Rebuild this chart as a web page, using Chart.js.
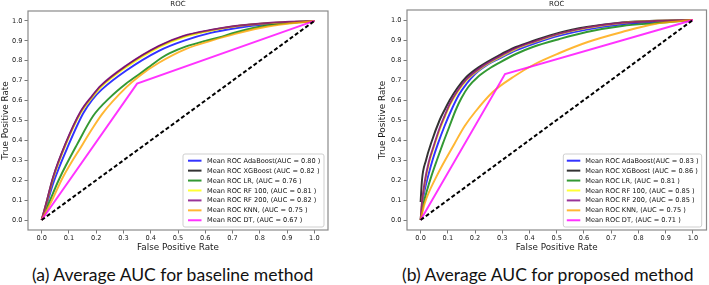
<!DOCTYPE html>
<html><head><meta charset="utf-8">
<script src="https://cdn.jsdelivr.net/npm/chart.js@4"></script>
<style>
html,body{margin:0;padding:0;background:#fff;width:709px;height:285px;overflow:hidden}
.wrap{position:absolute;top:0;width:354px;height:255px}
.cap{position:absolute;white-space:nowrap;font-family:Lato,"Open Sans",sans-serif;color:#111;line-height:20px;top:265px}
</style></head><body>
<div class="wrap" style="left:0"><canvas id="c1" width="354" height="255"></canvas></div>
<div class="wrap" style="left:355px"><canvas id="c2" width="354" height="255"></canvas></div>
<div class="cap" id="capA">(a) Average AUC for baseline method</div>
<div class="cap" id="capB">(b) Average AUC for proposed method</div>
<script>
// ---------- data ----------
const tickValues = [0,0.1,0.2,0.3,0.4,0.5,0.6,0.7,0.8,0.9,1.0];
const tickLabels = ['0.0','0.1','0.2','0.3','0.4','0.5','0.6','0.7','0.8','0.9','1.0'];
const modelNames = ['Mean ROC AdaBoost','Mean ROC XGBoost ','Mean ROC LR, ','Mean ROC RF 100, ','Mean ROC RF 200, ','Mean ROC KNN, ','Mean ROC DT, '];
const aucBaseline = [0.80,0.82,0.76,0.81,0.82,0.75,0.67];
const aucProposed = [0.83,0.86,0.81,0.85,0.85,0.75,0.71];
const chanceFpr = [0,1];
const chanceTpr = [0,1];

// (a) baseline
const fprAdaA = [0,0.02,0.045,0.098,0.152,0.186,0.22,0.309,0.43,0.52,0.62,0.71,0.83,1];
const tprAdaA = [0,0.085,0.195,0.375,0.535,0.605,0.655,0.75,0.85,0.9,0.94,0.963,0.984,1];
const fprXgbA = [0,0.017,0.042,0.088,0.143,0.186,0.217,0.309,0.43,0.52,0.62,0.71,0.83,1];
const tprXgbA = [0,0.083,0.212,0.382,0.542,0.622,0.672,0.772,0.872,0.922,0.953,0.974,0.989,1];
const fprLrA  = [0,0.025,0.064,0.13,0.19,0.25,0.309,0.36,0.4,0.44,0.47,0.53,0.6,0.65,0.71,0.83,1];
const tprLrA  = [0,0.08,0.205,0.38,0.525,0.615,0.685,0.735,0.775,0.815,0.838,0.872,0.9,0.917,0.942,0.978,1];
const fprRf100A = [0,0.017,0.042,0.088,0.143,0.186,0.217,0.309,0.43,0.52,0.62,0.71,0.83,1];
const tprRf100A = [0,0.08,0.207,0.377,0.537,0.617,0.667,0.767,0.867,0.918,0.951,0.972,0.988,1];
const fprRf200A = [0,0.017,0.042,0.088,0.143,0.186,0.217,0.309,0.43,0.52,0.62,0.71,0.83,1];
const tprRf200A = [0,0.085,0.215,0.385,0.545,0.625,0.675,0.775,0.875,0.925,0.955,0.975,0.99,1];
const fprKnnA = [0,0.033,0.078,0.15,0.186,0.223,0.309,0.36,0.43,0.53,0.62,0.71,0.83,1];
const tprKnnA = [0,0.085,0.215,0.38,0.46,0.535,0.665,0.725,0.79,0.86,0.9,0.935,0.972,1];
const fprDtA = [0,0.35,1];
const tprDtA = [0,0.685,1];

// (b) proposed
const fprAdaB = [0,0.006,0.015,0.027,0.045,0.064,0.088,0.113,0.14,0.168,0.2,0.25,0.29,0.35,0.412,0.51,0.61,0.74,0.87,1];
const tprAdaB = [0,0.083,0.15,0.217,0.305,0.383,0.47,0.55,0.625,0.68,0.73,0.78,0.808,0.848,0.88,0.922,0.952,0.978,0.992,1];
const fprXgbB = [0,0.005,0.02,0.04,0.07,0.088,0.107,0.135,0.168,0.22,0.29,0.35,0.412,0.51,0.61,0.74,0.87,1];
const tprXgbB = [0.09,0.2,0.3,0.39,0.5,0.55,0.6,0.66,0.715,0.77,0.825,0.865,0.895,0.937,0.965,0.988,0.997,1];
const fprLrB  = [0,0.011,0.025,0.039,0.06,0.082,0.105,0.129,0.15,0.175,0.21,0.25,0.29,0.35,0.412,0.51,0.61,0.74,0.87,1];
const tprLrB  = [0,0.083,0.155,0.217,0.3,0.383,0.465,0.55,0.61,0.665,0.715,0.755,0.787,0.83,0.865,0.905,0.94,0.97,0.985,1];
const fprRf100B = [0,0.005,0.015,0.03,0.048,0.07,0.088,0.107,0.135,0.168,0.22,0.29,0.35,0.412,0.51,0.61,0.74,0.87,1];
const tprRf100B = [0,0.085,0.18,0.28,0.362,0.45,0.512,0.572,0.638,0.697,0.757,0.813,0.855,0.887,0.93,0.96,0.985,0.996,1];
const fprRf200B = [0,0.005,0.015,0.03,0.048,0.07,0.088,0.107,0.135,0.168,0.22,0.29,0.35,0.412,0.51,0.61,0.74,0.87,1];
const tprRf200B = [0,0.09,0.19,0.29,0.37,0.46,0.52,0.58,0.645,0.703,0.762,0.818,0.859,0.89,0.932,0.962,0.986,0.996,1];
const fprKnnB = [0,0.015,0.058,0.125,0.162,0.2,0.265,0.34,0.42,0.51,0.614,0.74,0.86,1];
const tprKnnB = [0,0.083,0.217,0.383,0.47,0.54,0.64,0.715,0.78,0.835,0.89,0.94,0.98,1];
const fprDtB = [0,0.31,1];
const tprDtB = [0,0.73,1];

// ---------- styles ----------
const lineColors = ['rgba(0,0,255,0.8)','rgba(0,0,0,0.8)','rgba(0,128,0,0.8)','rgba(255,255,0,0.8)','rgba(128,0,128,0.8)','rgba(255,165,0,0.8)','rgba(255,0,255,0.8)'];
const FONT = '"DejaVu Sans", sans-serif';

function pts(xs, ys){ return xs.map((x,i)=>({x:x, y:ys[i]})); }

const decor = {
  id:'decor',
  afterDatasetsDraw(chart, args, o){
    const ctx = chart.ctx, a = chart.chartArea;
    ctx.save();
    ctx.strokeStyle = '#8a8a8a'; ctx.lineWidth = 1.2;
    ctx.strokeRect(a.left, a.top, a.right-a.left, a.bottom-a.top);
    ctx.fillStyle = '#1a1a1a'; ctx.font = '7px ' + FONT;
    ctx.textAlign = 'center'; ctx.textBaseline = 'middle';
    ctx.fillText('ROC', (a.left+a.right)/2, o.titleY);
    // legend
    const b = o.box;
    ctx.beginPath();
    if (ctx.roundRect) ctx.roundRect(b.x, b.y, b.w, b.h, 2); else ctx.rect(b.x,b.y,b.w,b.h);
    ctx.fillStyle = 'rgba(255,255,255,0.85)'; ctx.fill();
    ctx.strokeStyle = '#cfcfcf'; ctx.lineWidth = 1; ctx.stroke();
    ctx.font = '6.6px ' + FONT; ctx.textAlign = 'left'; ctx.textBaseline = 'middle';
    let row = 0;
    chart.data.datasets.forEach(ds=>{
      if(!ds.label) return;
      const y = b.y + o.firstRow + row*o.rowGap;
      ctx.beginPath(); ctx.strokeStyle = ds.borderColor; ctx.lineWidth = 2;
      ctx.moveTo(b.x + o.lineX0, y); ctx.lineTo(b.x + o.lineX0 + o.lineLen, y); ctx.stroke();
      ctx.fillStyle = '#111';
      ctx.fillText(ds.label, b.x + o.textX, y + 0.3);
      row++;
    });
    ctx.restore();
  }
};

function makeChart(id, series, aucs, cfg){
  const datasets = series.map((s,i)=>({
    label: modelNames[i] + '(AUC = ' + aucs[i].toFixed(2) + ' )',
    data: pts(s[0], s[1]),
    borderColor: lineColors[i], borderWidth: 1.95,
    pointRadius: 0, fill:false,
    cubicInterpolationMode: i===6 ? 'default' : 'monotone', tension: 0,
    order: 20 - i
  }));
  datasets.push({label:'', data: pts(chanceFpr, chanceTpr), borderColor:'#000', borderWidth:2,
    borderDash:[4,2.4], pointRadius:0, tension:0, order: 1});
  const axisCommon = (which, titleText) => ({
    type:'linear', min:-0.05, max:1.05,
    afterBuildTicks: ax => { ax.ticks = tickValues.map(v=>({value:v})); },
    ticks:{ autoSkip:false, maxRotation:0, font:{size:6.6, family:FONT}, color:'#1a1a1a',
      padding: which==='x' ? 1 : 2,
      callback: (v) => { const k = tickValues.findIndex(t=>Math.abs(t-v)<1e-9); return k<0 ? '' : tickLabels[k]; } },
    grid:{ display:true, drawOnChartArea:false, drawTicks:true, tickLength:3.5, color:'#555', lineWidth:0.8 },
    border:{ display:false },
    title:{ display:true, text:titleText, color:'#1a1a1a', font:{size:8.8, family:FONT},
      padding: which==='x' ? {top:0,bottom:cfg.xTitlePad} : {top:cfg.yTitlePad,bottom:0} }
  });
  const x = axisCommon('x','False Positive Rate');
  x.afterFit = ax => { ax.height = cfg.xH; };
  const y = axisCommon('y','True Positive Rate');
  y.afterFit = ax => { ax.width = cfg.yW; };
  return new Chart(document.getElementById(id), {
    type:'line',
    data:{ datasets },
    options:{
      responsive:false, animation:false, devicePixelRatio:1,
      layout:{ padding:{ top:cfg.top, right:cfg.right, left:0, bottom:0 } },
      scales:{ x, y },
      plugins:{ legend:{display:false}, tooltip:{enabled:false}, title:{display:false},
        decor: cfg.decor }
    },
    plugins:[decor]
  });
}

makeChart('c1', [
  [fprAdaA,tprAdaA],[fprXgbA,tprXgbA],[fprLrA,tprLrA],[fprRf100A,tprRf100A],
  [fprRf200A,tprRf200A],[fprKnnA,tprKnnA],[fprDtA,tprDtA]
], aucBaseline, { top:11, right:26, xH:25, yW:28, xTitlePad:2, yTitlePad:0,
  decor:{ titleY:4.5, box:{x:183,y:154,w:141,h:73}, firstRow:6.7, rowGap:9.93, lineX0:5, lineLen:13.5, textX:24 } });

makeChart('c2', [
  [fprAdaB,tprAdaB],[fprXgbB,tprXgbB],[fprLrB,tprLrB],[fprRf100B,tprRf100B],
  [fprRf200B,tprRf200B],[fprKnnB,tprKnnB],[fprDtB,tprDtB]
], aucProposed, { top:10, right:2.5, xH:25, yW:52, xTitlePad:2, yTitlePad:22,
  decor:{ titleY:4.5, box:{x:208.3,y:154,w:138.4,h:73}, firstRow:6.7, rowGap:9.93, lineX0:3.5, lineLen:13.5, textX:22 } });

// captions
function fitCaption(id, center, width){
  const el = document.getElementById(id);
  const c = document.createElement('canvas').getContext('2d');
  c.font = '100px Lato';
  const w = c.measureText(el.textContent).width;
  const fs = 100 * width / w;
  el.style.fontSize = fs.toFixed(2) + 'px';
  el.style.left = (center - width/2).toFixed(1) + 'px';
}
fitCaption('capA', 173.5, 283);
fitCaption('capB', 548.5, 293);
</script>
</body></html>
